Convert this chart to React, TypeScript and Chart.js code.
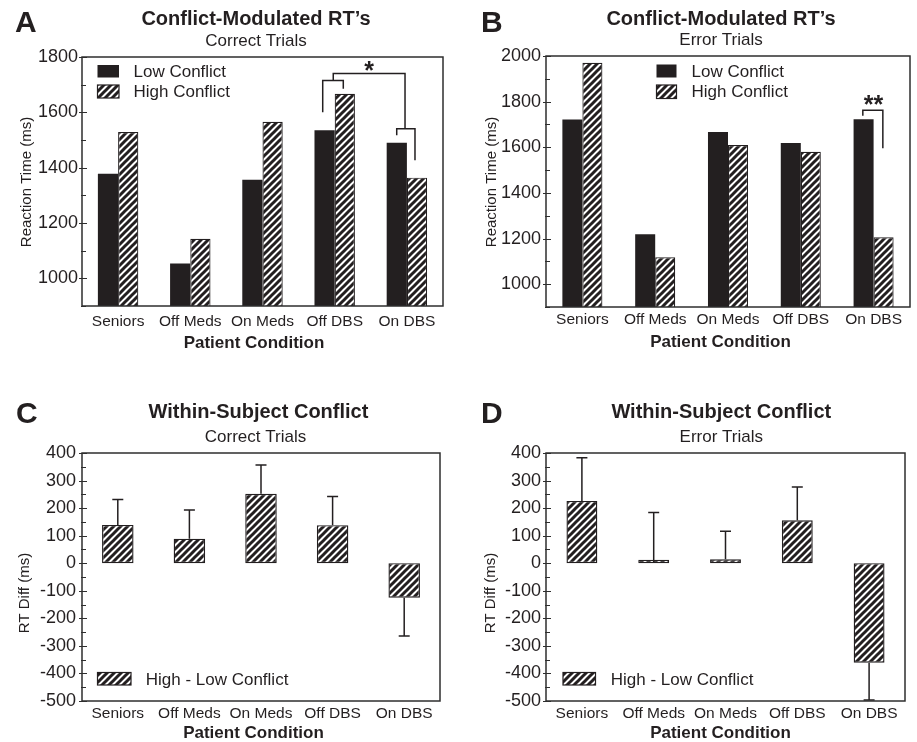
import React, { useEffect, useRef } from 'react';
import { Chart, registerables } from 'chart.js';

Chart.register(...registerables);

const FONT = "'Liberation Sans', Arial, Helvetica, sans-serif";
const INK = '#231f20';
const FRAME = '#2e2e2e';

// ---------- data ----------
const conditions = ['Seniors', 'Off Meds', 'On Meds', 'Off DBS', 'On DBS'];

// Panel A: correct trials, reaction time (ms)
const correctLow = [1378, 1054, 1356, 1535, 1490];
const correctHigh = [1529, 1143, 1566, 1667, 1364];

// Panel B: error trials, reaction time (ms)
const errorLow = [1722, 1219, 1667, 1619, 1723];
const errorHigh = [1970, 1118, 1610, 1580, 1206];

// Panel C: within-subject conflict (high - low), correct trials
const correctDiff = [139, 89, 252, 138, -125];
const correctDiffSem = [92, 104, 104, 104, 139];

// Panel D: within-subject conflict (high - low), error trials
const errorDiff = [226, 3, 14, 156, -361];
const errorDiffSem = [157, 181, 102, 121, 135];

// tick labels
const rtTicksA = [1000, 1200, 1400, 1600, 1800];
const rtTicksB = [1000, 1200, 1400, 1600, 1800, 2000];
const diffTicks = [-500, -400, -300, -200, -100, 0, 100, 200, 300, 400];

// significance brackets: polylines in (category position, value)
const bracketsA = [
  [[2.834, 1600], [2.834, 1715], [3.119, 1715], [3.119, 1685]],
  [[2.98, 1715], [2.98, 1740], [3.974, 1740], [3.974, 1541]],
  [[3.859, 1517], [3.859, 1541], [4.112, 1541], [4.112, 1427]],
];
const starsA = [{ x: 3.475, y: 1722, text: '*' }];
const bracketsB = [[[3.852, 1738], [3.852, 1762], [4.127, 1762], [4.127, 1596]]];
const starsB = [{ x: 4.0, y: 1750, text: '**' }];

// ---------- panel layout ----------
type Panel = {
  key: string;
  box: { left: number; top: number; w: number; h: number };
  plot: { l: number; t: number; r: number; b: number };
  letter: string; letterX: number; letterY: number;
  title: string; titleCx: number; titleY: number;
  subtitle: string; subCx: number; subY: number;
  yTitle: string; yTitleX: number; yTitleY: number;
  xTitle: string; xTitleCx: number; xTitleY: number;
  yMin: number; yMax: number; yTicks: number[]; minorStep: number;
  yTickPad: number; xTickPad: number; catPct: number;
  kind: 'pair' | 'diff';
  low?: number[]; high?: number[];
  diff?: number[]; sem?: number[];
  legendLabels: string[];
  legend: { x: number; y: number; w: number; h: number; gap: number; textX: number };
  brackets?: number[][][];
  stars?: { x: number; y: number; text: string }[];
};

const panels: Panel[] = [
  {
    key: 'A', box: { left: 0, top: 0, w: 458, h: 360 },
    plot: { l: 82, t: 57, r: 443, b: 306 },
    letter: 'A', letterX: 15, letterY: 32,
    title: 'Conflict-Modulated RT\u2019s', titleCx: 256, titleY: 25,
    subtitle: 'Correct Trials', subCx: 256, subY: 45.5,
    yTitle: 'Reaction Time (ms)', yTitleX: 27, yTitleY: 182,
    xTitle: 'Patient Condition', xTitleCx: 254, xTitleY: 348,
    yMin: 900, yMax: 1800, yTicks: rtTicksA, minorStep: 100,
    yTickPad: 4, xTickPad: 6, catPct: 0.56,
    kind: 'pair', low: correctLow, high: correctHigh,
    legendLabels: ['Low Conflict', 'High Conflict'],
    legend: { x: 97.5, y: 65, w: 21.5, h: 12.5, gap: 20, textX: 133.5 },
    brackets: bracketsA, stars: starsA,
  },
  {
    key: 'B', box: { left: 458, top: 0, w: 459, h: 360 },
    plot: { l: 88, t: 56, r: 452, b: 307 },
    letter: 'B', letterX: 23, letterY: 32,
    title: 'Conflict-Modulated RT\u2019s', titleCx: 263, titleY: 25,
    subtitle: 'Error Trials', subCx: 263, subY: 45,
    yTitle: 'Reaction Time (ms)', yTitleX: 34, yTitleY: 182,
    xTitle: 'Patient Condition', xTitleCx: 262.5, xTitleY: 346.5,
    yMin: 900, yMax: 2000, yTicks: rtTicksB, minorStep: 100,
    yTickPad: 5, xTickPad: 3.5, catPct: 0.55,
    kind: 'pair', low: errorLow, high: errorHigh,
    legendLabels: ['Low Conflict', 'High Conflict'],
    legend: { x: 198.5, y: 64.5, w: 20, h: 13, gap: 20.5, textX: 233.5 },
    brackets: bracketsB, stars: starsB,
  },
  {
    key: 'C', box: { left: 0, top: 360, w: 458, h: 382 },
    plot: { l: 82, t: 93, r: 440, b: 341 },
    letter: 'C', letterX: 16, letterY: 63,
    title: 'Within-Subject Conflict', titleCx: 258.5, titleY: 57.5,
    subtitle: 'Correct Trials', subCx: 255.5, subY: 81.5,
    yTitle: 'RT Diff (ms)', yTitleX: 25, yTitleY: 233,
    xTitle: 'Patient Condition', xTitleCx: 253.5, xTitleY: 378,
    yMin: -500, yMax: 400, yTicks: diffTicks, minorStep: 50,
    yTickPad: 6, xTickPad: 3, catPct: 0.44,
    kind: 'diff', diff: correctDiff, sem: correctDiffSem,
    legendLabels: ['High - Low Conflict'],
    legend: { x: 97.5, y: 312.5, w: 33.5, h: 12.5, gap: 0, textX: 145.7 },
  },
  {
    key: 'D', box: { left: 458, top: 360, w: 459, h: 382 },
    plot: { l: 88, t: 93, r: 447, b: 341 },
    letter: 'D', letterX: 23, letterY: 63,
    title: 'Within-Subject Conflict', titleCx: 263.3, titleY: 57.5,
    subtitle: 'Error Trials', subCx: 263.3, subY: 81.5,
    yTitle: 'RT Diff (ms)', yTitleX: 33, yTitleY: 233,
    xTitle: 'Patient Condition', xTitleCx: 262.5, xTitleY: 378,
    yMin: -500, yMax: 400, yTicks: diffTicks, minorStep: 50,
    yTickPad: 5, xTickPad: 3, catPct: 0.43,
    kind: 'diff', diff: errorDiff, sem: errorDiffSem,
    legendLabels: ['High - Low Conflict'],
    legend: { x: 105, y: 312.5, w: 32.5, h: 12.5, gap: 0, textX: 152.7 },
  },
];

// ---------- helpers ----------
function makeHatch(ctx: CanvasRenderingContext2D): CanvasPattern | string {
  const s = 7;
  const c = document.createElement('canvas');
  c.width = s;
  c.height = s;
  const g = c.getContext('2d');
  if (!g) return INK;
  g.fillStyle = '#ffffff';
  g.fillRect(0, 0, s, s);
  g.strokeStyle = INK;
  g.lineWidth = 3.0;
  g.beginPath();
  g.moveTo(-2, s + 2); g.lineTo(s + 2, -2);
  g.moveTo(-2, 2); g.lineTo(2, -2);
  g.moveTo(s - 2, s + 2); g.lineTo(s + 2, s - 2);
  g.stroke();
  return ctx.createPattern(c, 'repeat') || INK;
}

function text(
  ctx: CanvasRenderingContext2D, s: string, x: number, y: number, font: string,
  align: CanvasTextAlign = 'center', baseline: CanvasTextBaseline = 'alphabetic',
) {
  ctx.font = font;
  ctx.fillStyle = INK;
  ctx.textAlign = align;
  ctx.textBaseline = baseline;
  ctx.fillText(s, x, y);
}

function decor(p: Panel) {
  return {
    id: 'decor' + p.key,
    afterDatasetsDraw(chart: any) {
      const ctx: CanvasRenderingContext2D = chart.ctx;
      const xs = chart.scales.x;
      const ys = chart.scales.y;
      const catW = xs.getPixelForValue(1) - xs.getPixelForValue(0);
      ctx.save();
      ctx.strokeStyle = INK;
      ctx.lineWidth = 1.5;
      // error bars
      if (p.kind === 'diff' && p.diff && p.sem) {
        const meta = chart.getDatasetMeta(0);
        p.diff.forEach((v, i) => {
          const el = meta.data[i];
          const sign = v >= 0 ? 1 : -1;
          const y0 = ys.getPixelForValue(v);
          const y1 = ys.getPixelForValue(v + sign * p.sem![i]);
          ctx.beginPath();
          ctx.moveTo(el.x, y0);
          ctx.lineTo(el.x, y1);
          ctx.moveTo(el.x - 5.5, y1);
          ctx.lineTo(el.x + 5.5, y1);
          ctx.stroke();
        });
      }
      // brackets
      (p.brackets || []).forEach((line) => {
        ctx.beginPath();
        line.forEach(([c, v], j) => {
          const px = xs.getPixelForValue(0) + c * catW;
          const py = ys.getPixelForValue(v);
          if (j === 0) ctx.moveTo(px, py); else ctx.lineTo(px, py);
        });
        ctx.stroke();
      });
      (p.stars || []).forEach((s) => {
        const px = xs.getPixelForValue(0) + s.x * catW;
        text(ctx, s.text, px, ys.getPixelForValue(s.y), `bold 25px ${FONT}`);
      });
      ctx.restore();
    },
    afterDraw(chart: any) {
      const ctx: CanvasRenderingContext2D = chart.ctx;
      const ca = chart.chartArea;
      const ys = chart.scales.y;
      ctx.save();
      // frame
      ctx.strokeStyle = FRAME;
      ctx.lineWidth = 1.5;
      ctx.strokeRect(ca.left, ca.top, ca.right - ca.left, ca.bottom - ca.top);
      // y ticks (major + minor)
      ctx.lineWidth = 1.2;
      ctx.beginPath();
      for (let v = p.yMin; v <= p.yMax + 1e-6; v += p.minorStep) {
        const py = Math.round(ys.getPixelForValue(v)) + 0.5;
        const major = p.yTicks.includes(v);
        ctx.moveTo(ca.left - (major ? 3 : 1), py);
        ctx.lineTo(ca.left + (major ? 5 : 4), py);
      }
      ctx.stroke();
      // texts
      text(ctx, p.letter, p.letterX, p.letterY, `bold 30px ${FONT}`, 'left');
      text(ctx, p.title, p.titleCx, p.titleY, `bold 20px ${FONT}`);
      text(ctx, p.subtitle, p.subCx, p.subY, `17px ${FONT}`);
      text(ctx, p.xTitle, p.xTitleCx, p.xTitleY, `bold 17px ${FONT}`);
      ctx.save();
      ctx.translate(p.yTitleX, p.yTitleY);
      ctx.rotate(-Math.PI / 2);
      text(ctx, p.yTitle, 0, 0, `15px ${FONT}`, 'center', 'middle');
      ctx.restore();
      // legend
      const L = p.legend;
      chart.data.datasets.forEach((ds: any, i: number) => {
        const y = L.y + i * L.gap;
        const h = i === 0 ? L.h : L.h + 0.5;
        ctx.fillStyle = ds.backgroundColor;
        ctx.fillRect(L.x, y, L.w, h);
        if (ds.backgroundColor !== INK) {
          ctx.strokeStyle = INK;
          ctx.lineWidth = 1.2;
          ctx.strokeRect(L.x, y, L.w, h);
        }
        text(ctx, p.legendLabels[i], L.textX, y + 12.3, `17px ${FONT}`, 'left');
      });
      ctx.restore();
    },
  };
}

function PanelChart({ p }: { p: Panel }) {
  const ref = useRef<HTMLCanvasElement>(null);
  useEffect(() => {
    const canvas = ref.current;
    if (!canvas) return;
    const ctx = canvas.getContext('2d') as CanvasRenderingContext2D;
    const hatch = makeHatch(ctx);
    const datasets: any[] = p.kind === 'pair'
      ? [
          { label: p.legendLabels[0], data: p.low, backgroundColor: INK, borderWidth: 0 },
          { label: p.legendLabels[1], data: p.high, backgroundColor: hatch, borderColor: INK, borderWidth: 1.2, borderSkipped: 'start' },
        ]
      : [
          {
            label: p.legendLabels[0], data: p.diff, backgroundColor: hatch, borderColor: INK,
            borderWidth: 1.4, borderSkipped: false, minBarLength: 3.5,
          },
        ];
    datasets.forEach((d) => { d.categoryPercentage = p.catPct; d.barPercentage = 1; });
    const chart = new Chart(canvas, {
      type: 'bar',
      data: { labels: conditions, datasets },
      options: {
        responsive: false,
        animation: false,
        devicePixelRatio: 1,
        layout: { padding: { left: 0, top: p.plot.t, right: p.box.w - p.plot.r, bottom: 0 } },
        plugins: { legend: { display: false }, title: { display: false }, tooltip: { enabled: false } },
        scales: {
          x: {
            grid: { display: false, drawTicks: false },
            border: { display: false },
            ticks: {
              color: INK, font: { family: FONT, size: 15.5 }, padding: p.xTickPad,
              maxRotation: 0, autoSkip: false,
            },
            afterFit: (s: any) => { s.height = p.box.h - p.plot.b; },
          },
          y: {
            min: p.yMin, max: p.yMax,
            grid: { display: false, drawTicks: false },
            border: { display: false },
            ticks: {
              color: INK, font: { family: FONT, size: 18 }, padding: p.yTickPad,
              callback: (v: any) => String(v),
            },
            afterBuildTicks: (s: any) => { s.ticks = p.yTicks.map((v) => ({ value: v })); },
            afterFit: (s: any) => { s.width = p.plot.l; },
          },
        },
      } as any,
      plugins: [decor(p)],
    });
    return () => chart.destroy();
  }, [p]);
  return (
    <canvas
      ref={ref}
      width={p.box.w}
      height={p.box.h}
      style={{ position: 'absolute', left: p.box.left, top: p.box.top, width: p.box.w, height: p.box.h }}
    />
  );
}

export default function App() {
  return (
    <div style={{ position: 'absolute', left: 0, top: 0, width: 917, height: 742, background: '#ffffff' }}>
      {panels.map((p) => (
        <PanelChart key={p.key} p={p} />
      ))}
    </div>
  );
}
